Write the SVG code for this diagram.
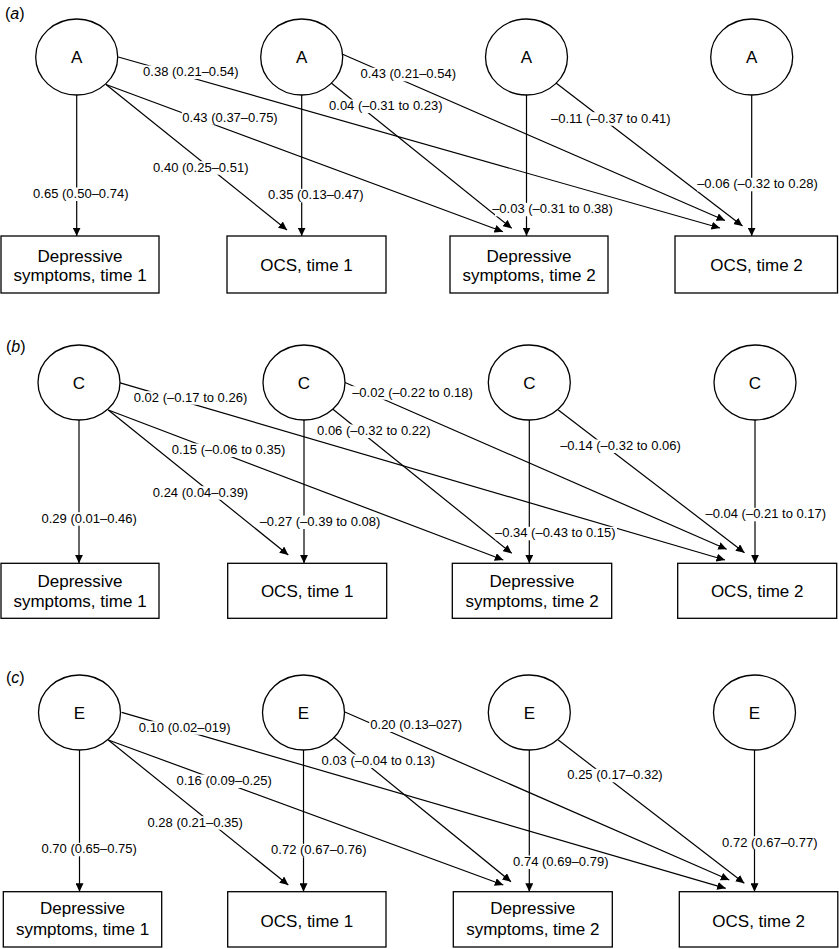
<svg xmlns="http://www.w3.org/2000/svg" width="839" height="949" viewBox="0 0 839 949">
<style>
text{font-family:"Liberation Sans",Arial,sans-serif;fill:#000;text-anchor:middle}
.nt{font-size:17px}
.pl{font-size:16px;text-anchor:start}
.lt{font-size:13px}
.n{fill:#fff;stroke:#000;stroke-width:1.3}
.c{fill:none;stroke:#000;stroke-width:1.2;marker-end:url(#ah)}
.bg{fill:#fff}
</style>
<defs>
<marker id="ah" markerUnits="userSpaceOnUse" markerWidth="9" markerHeight="8" refX="8.5" refY="4" orient="auto">
<path d="M0,0 L8.5,4 L0,8 z" fill="#000"/>
</marker>
</defs>
<rect width="839" height="949" fill="#fff"/>

<text class="pl" x="5" y="19">(<tspan font-style="italic">a</tspan>)</text>
<text class="pl" x="6" y="352">(<tspan font-style="italic">b</tspan>)</text>
<text class="pl" x="6" y="683">(<tspan font-style="italic">c</tspan>)</text>

<g id="connectors">
<path class="c" d="M76.7,95 V236"/>
<path class="c" d="M118.3,57 L720,228"/>
<path class="c" d="M106,84.5 L503,231.7"/>
<path class="c" d="M106,84.5 L287,230"/>
<path class="c" d="M301.7,95 V236"/>
<path class="c" d="M342,54 L725,220.5"/>
<path class="c" d="M330,82 L511.7,228.3"/>
<path class="c" d="M526.5,95 V236"/>
<path class="c" d="M556,83 L742.5,226"/>
<path class="c" d="M751.7,95 V236"/>

<path class="c" d="M79,420 V563.3"/>
<path class="c" d="M119.3,382.7 L725,560"/>
<path class="c" d="M108.3,410 L503.3,560"/>
<path class="c" d="M108.3,410 L288.3,555"/>
<path class="c" d="M304,420 V563.3"/>
<path class="c" d="M343.3,381.7 L726.7,549.3"/>
<path class="c" d="M331.7,408.3 L511.7,553.3"/>
<path class="c" d="M529.3,420 V563.3"/>
<path class="c" d="M558.3,410 L744.5,552.7"/>
<path class="c" d="M755,420 V563.3"/>

<path class="c" d="M79.5,750 V891.7"/>
<path class="c" d="M121.7,712.3 L725.7,888.3"/>
<path class="c" d="M108.3,740 L503.3,885"/>
<path class="c" d="M108.3,740 L288.3,885"/>
<path class="c" d="M303.5,750 V891.7"/>
<path class="c" d="M344.3,711.7 L729.3,880"/>
<path class="c" d="M333.3,736.7 L511,881.7"/>
<path class="c" d="M529.3,750 V891.7"/>
<path class="c" d="M558.3,740 L744.3,883.3"/>
<path class="c" d="M754.5,750 V891.7"/>
</g>

<g id="labels">
<rect class="bg" x="31.8" y="187.5" width="98" height="13.5"/><text class="lt" x="80.8" y="198">0.65 (0.50–0.74)</text>
<rect class="bg" x="141.8" y="65.5" width="98" height="13.5"/><text class="lt" x="190.8" y="76">0.38 (0.21–0.54)</text>
<rect class="bg" x="181.8" y="111.2" width="96.4" height="13.5"/><text class="lt" x="230" y="121.7">0.43 (0.37–0.75)</text>
<rect class="bg" x="151.8" y="161.2" width="98" height="13.5"/><text class="lt" x="200.8" y="171.7">0.40 (0.25–0.51)</text>
<rect class="bg" x="266.8" y="188.8" width="98" height="13.5"/><text class="lt" x="315.8" y="199.3">0.35 (0.13–0.47)</text>
<rect class="bg" x="360.2" y="67.8" width="96.3" height="13.5"/><text class="lt" x="408.3" y="78.3">0.43 (0.21–0.54)</text>
<rect class="bg" x="326.8" y="99.5" width="118" height="13.5"/><text class="lt" x="385.8" y="110">0.04 (–0.31 to 0.23)</text>
<rect class="bg" x="548.5" y="112.2" width="124.7" height="13.5"/><text class="lt" x="610.8" y="122.7">–0.11 (–0.37 to 0.41)</text>
<rect class="bg" x="697" y="177.8" width="122" height="13.5"/><text class="lt" x="757.5" y="188.3">–0.06 (–0.32 to 0.28)</text>
<rect class="bg" x="495" y="202.8" width="119" height="13.5"/><text class="lt" x="552.5" y="213.3">–0.03 (–0.31 to 0.38)</text>

<rect class="bg" x="40.2" y="512.2" width="98" height="13.5"/><text class="lt" x="89.2" y="522.7">0.29 (0.01–0.46)</text>
<rect class="bg" x="131.2" y="391.2" width="118.6" height="13.5"/><text class="lt" x="190.5" y="401.7">0.02 (–0.17 to 0.26)</text>
<rect class="bg" x="169.5" y="443.5" width="118" height="13.5"/><text class="lt" x="228.5" y="454">0.15 (–0.06 to 0.35)</text>
<rect class="bg" x="151.2" y="486.2" width="98.6" height="13.5"/><text class="lt" x="200.5" y="496.7">0.24 (0.04–0.39)</text>
<rect class="bg" x="257.8" y="515.5" width="124.4" height="13.5"/><text class="lt" x="320" y="526">–0.27 (–0.39 to 0.08)</text>
<rect class="bg" x="350.2" y="386.2" width="124.6" height="13.5"/><text class="lt" x="412.5" y="396.7">–0.02 (–0.22 to 0.18)</text>
<rect class="bg" x="314.5" y="424.5" width="118.7" height="13.5"/><text class="lt" x="373.8" y="435">0.06 (–0.32 to 0.22)</text>
<rect class="bg" x="557.8" y="439.5" width="125.4" height="13.5"/><text class="lt" x="620.5" y="450">–0.14 (–0.32 to 0.06)</text>
<rect class="bg" x="705" y="507.8" width="123" height="13.5"/><text class="lt" x="765.8" y="518.3">–0.04 (–0.21 to 0.17)</text>
<rect class="bg" x="495.5" y="526.8" width="121.5" height="13.5"/><text class="lt" x="555.3" y="537.3">–0.34 (–0.43 to 0.15)</text>

<rect class="bg" x="40.2" y="842.8" width="98" height="13.5"/><text class="lt" x="89.2" y="853.3">0.70 (0.65–0.75)</text>
<rect class="bg" x="137.8" y="721.2" width="93.7" height="13.5"/><text class="lt" x="184.7" y="731.7">0.10 (0.02–019)</text>
<rect class="bg" x="175.2" y="774.5" width="98" height="13.5"/><text class="lt" x="224.2" y="785">0.16 (0.09–0.25)</text>
<rect class="bg" x="146.2" y="816.2" width="98" height="13.5"/><text class="lt" x="195.2" y="826.7">0.28 (0.21–0.35)</text>
<rect class="bg" x="270.2" y="843.8" width="97.3" height="13.5"/><text class="lt" x="318.8" y="854.3">0.72 (0.67–0.76)</text>
<rect class="bg" x="369.2" y="718.5" width="94" height="13.5"/><text class="lt" x="416.2" y="729">0.20 (0.13–027)</text>
<rect class="bg" x="320.2" y="754.5" width="116.3" height="13.5"/><text class="lt" x="378.3" y="765">0.03 (–0.04 to 0.13)</text>
<rect class="bg" x="566.2" y="768.8" width="97.7" height="13.5"/><text class="lt" x="615" y="779.3">0.25 (0.17–0.32)</text>
<rect class="bg" x="720.8" y="836.2" width="98" height="13.5"/><text class="lt" x="769.8" y="846.7">0.72 (0.67–0.77)</text>
<rect class="bg" x="513.3" y="855.5" width="95" height="13.5"/><text class="lt" x="560.8" y="866">0.74 (0.69–0.79)</text>
</g>

<g id="a-A1"><ellipse class="n" cx="76.7" cy="57" rx="41" ry="38"/><text class="nt" x="76.7" y="63">A</text></g>
<g id="a-A2"><ellipse class="n" cx="301.7" cy="57" rx="41" ry="38"/><text class="nt" x="301.7" y="63">A</text></g>
<g id="a-A3"><ellipse class="n" cx="526.5" cy="57" rx="41" ry="38"/><text class="nt" x="526.5" y="63">A</text></g>
<g id="a-A4"><ellipse class="n" cx="751.7" cy="57" rx="41" ry="38"/><text class="nt" x="751.7" y="63">A</text></g>
<g id="a-dep1"><rect class="n" x="1" y="236" width="158" height="57"/><text class="nt" x="80" y="261.5">Depressive</text><text class="nt" x="80" y="281">symptoms, time 1</text></g>
<g id="a-ocs1"><rect class="n" x="227" y="236" width="159" height="57"/><text class="nt" x="306.5" y="270.5">OCS, time 1</text></g>
<g id="a-dep2"><rect class="n" x="450" y="236" width="158" height="57"/><text class="nt" x="529" y="261.5">Depressive</text><text class="nt" x="529" y="281">symptoms, time 2</text></g>
<g id="a-ocs2"><rect class="n" x="675" y="236" width="162.5" height="57"/><text class="nt" x="756.5" y="270.5">OCS, time 2</text></g>

<g id="b-C1"><ellipse class="n" cx="79" cy="382.5" rx="41" ry="37.5"/><text class="nt" x="79" y="388.5">C</text></g>
<g id="b-C2"><ellipse class="n" cx="304" cy="382.5" rx="41" ry="37.5"/><text class="nt" x="304" y="388.5">C</text></g>
<g id="b-C3"><ellipse class="n" cx="529.3" cy="382.5" rx="41" ry="37.5"/><text class="nt" x="529.3" y="388.5">C</text></g>
<g id="b-C4"><ellipse class="n" cx="755" cy="382.5" rx="41" ry="37.5"/><text class="nt" x="755" y="388.5">C</text></g>
<g id="b-dep1"><rect class="n" x="1" y="563.3" width="158" height="55"/><text class="nt" x="80" y="587">Depressive</text><text class="nt" x="80" y="607">symptoms, time 1</text></g>
<g id="b-ocs1"><rect class="n" x="227.7" y="563.3" width="159" height="55"/><text class="nt" x="307.2" y="597">OCS, time 1</text></g>
<g id="b-dep2"><rect class="n" x="452.3" y="563.3" width="159.4" height="55"/><text class="nt" x="532" y="587">Depressive</text><text class="nt" x="532" y="607">symptoms, time 2</text></g>
<g id="b-ocs2"><rect class="n" x="677.7" y="563.3" width="159" height="55"/><text class="nt" x="757.2" y="597">OCS, time 2</text></g>

<g id="c-E1"><ellipse class="n" cx="79.5" cy="712.5" rx="41" ry="37.5"/><text class="nt" x="79.5" y="718.5">E</text></g>
<g id="c-E2"><ellipse class="n" cx="303.5" cy="712.5" rx="41" ry="37.5"/><text class="nt" x="303.5" y="718.5">E</text></g>
<g id="c-E3"><ellipse class="n" cx="529.3" cy="712.5" rx="41" ry="37.5"/><text class="nt" x="529.3" y="718.5">E</text></g>
<g id="c-E4"><ellipse class="n" cx="754.5" cy="712.5" rx="41" ry="37.5"/><text class="nt" x="754.5" y="718.5">E</text></g>
<g id="c-dep1"><rect class="n" x="3.3" y="891.7" width="158.4" height="55.3"/><text class="nt" x="82.5" y="914">Depressive</text><text class="nt" x="82.5" y="935">symptoms, time 1</text></g>
<g id="c-ocs1"><rect class="n" x="227.7" y="891.7" width="158.3" height="55.3"/><text class="nt" x="306.9" y="926.5">OCS, time 1</text></g>
<g id="c-dep2"><rect class="n" x="453.3" y="891.7" width="159" height="55.3"/><text class="nt" x="532.8" y="914">Depressive</text><text class="nt" x="532.8" y="935">symptoms, time 2</text></g>
<g id="c-ocs2"><rect class="n" x="679.3" y="891.7" width="158.5" height="55.3"/><text class="nt" x="758.6" y="926.5">OCS, time 2</text></g>
</svg>
